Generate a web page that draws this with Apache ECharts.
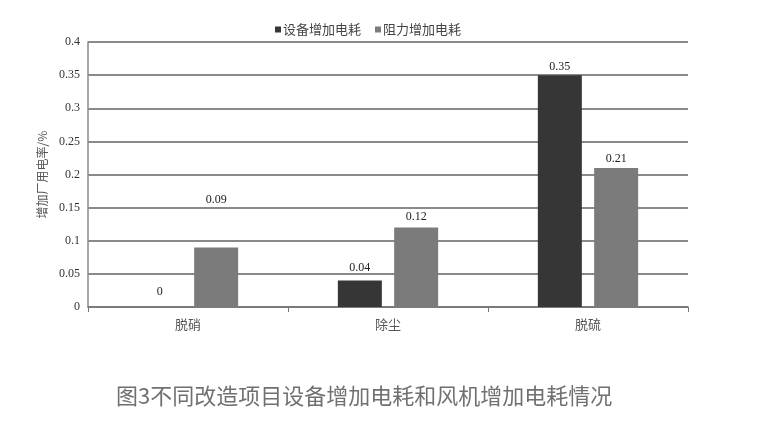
<!DOCTYPE html>
<html><head><meta charset="utf-8">
<script src="https://cdn.jsdelivr.net/npm/echarts@6/dist/echarts.min.js"></script>
<style>html,body{margin:0;padding:0;background:#fff}#c{width:772px;height:437px}</style>
</head><body><div id="c"></div>
<script>
const categories = ['脱硝', '除尘', '脱硫'];
const equipment = [0, 0.04, 0.35];
const resistance = [0.09, 0.12, 0.21];
const seriesNames = ['设备增加电耗', '阻力增加电耗'];
const yTicks = ['0', '0.05', '0.1', '0.15', '0.2', '0.25', '0.3', '0.35', '0.4'];
const caption = '图3不同改造项目设备增加电耗和风机增加电耗情况';
const yName = '增加厂用电率/%';

// label placement (style, not data)
const equipLabelGap = [9, 7, 2];
const resLabelGap = [42, 5, 3];

const chart = echarts.init(document.getElementById('c'));
const serif = '"Liberation Serif","DejaVu Serif",serif';
const cjk = '"Noto Sans CJK SC","Noto Sans",sans-serif';
const lbl = {show: true, position: 'top', fontFamily: serif, fontSize: 12, color: '#222'};
const withGap = (vals, gaps) => vals.map((v, i) => ({value: v, label: {distance: gaps[i]}}));
chart.setOption({
  animation: false,
  grid: {left: 88, right: 84, top: 42, bottom: 130},
  legend: {
    left: 270, top: 18, itemWidth: 6, itemHeight: 6, itemGap: 14,
    icon: 'rect',
    textStyle: {fontFamily: cjk, fontSize: 13, color: '#444', padding: [0, 0, 0, -3]},
    data: seriesNames
  },
  title: {
    text: caption, left: 111, top: 380,
    textStyle: {fontFamily: cjk, fontSize: 22, fontWeight: 'normal', color: '#707070'}
  },
  xAxis: {
    type: 'category', data: categories,
    axisLine: {lineStyle: {color: '#777', width: 1.5}},
    axisTick: {show: true, length: 5, lineStyle: {color: '#777'}},
    axisLabel: {fontFamily: cjk, fontSize: 13, color: '#555', margin: 11}
  },
  yAxis: {
    type: 'value', min: 0, max: 0.4, interval: 0.05,
    name: yName, nameLocation: 'middle', nameGap: 40, nameRotate: 90,
    nameTextStyle: {fontFamily: cjk, fontSize: 12, color: '#555'},
    axisLine: {show: true, lineStyle: {color: '#888', width: 1.5}},
    axisTick: {show: false},
    axisLabel: {fontFamily: serif, fontSize: 12, color: '#333', margin: 8,
      formatter: (v, i) => yTicks[i]},
    splitLine: {lineStyle: {color: '#8a8a8a', width: 2}}
  },
  series: [
    {name: seriesNames[0], type: 'bar', data: withGap(equipment, equipLabelGap), barWidth: 44, barGap: '28%',
     itemStyle: {color: '#363636'}, label: lbl},
    {name: seriesNames[1], type: 'bar', data: withGap(resistance, resLabelGap), barWidth: 44,
     itemStyle: {color: '#7b7b7b'}, label: lbl}
  ]
});
</script></body></html>
